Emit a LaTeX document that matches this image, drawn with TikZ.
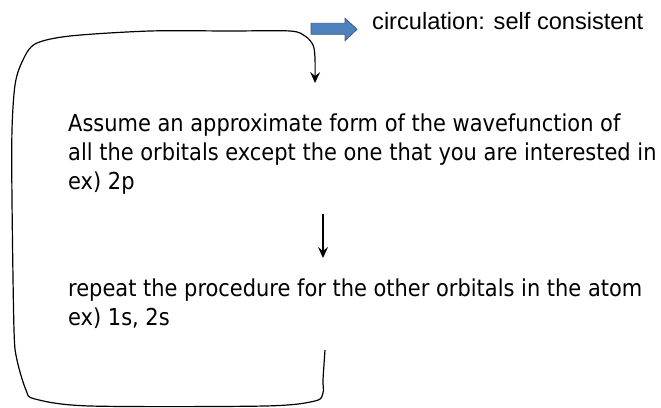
\documentclass[tikz,border=0pt]{standalone}
\usepackage{fontspec}
\newfontfamily\tahfont{DejaVu Sans Condensed}
\newfontfamily\arifont{Liberation Sans}
\usetikzlibrary{arrows.meta}
\definecolor{officeblue}{HTML}{4F81BD}
\definecolor{officeline}{HTML}{385D8A}
\begin{document}
\begin{tikzpicture}[x=1pt,y=-1pt,
  flow/.style={line width=1.2pt,-{Stealth[length=11pt,width=10pt,inset=4pt]}},
  bodytext/.style={inner sep=0pt,anchor=base west,align=left,
    font=\tahfont\fontsize{23.3}{29}\selectfont},
  notetext/.style={inner sep=0pt,anchor=base west,
    font=\arifont\fontsize{23.6}{28}\selectfont}]
\useasboundingbox (0,0) rectangle (661,407);
% blue arrow
\filldraw[fill=officeblue,draw=officeline,line width=0.8pt]
  (311,23.3)--(345,23.3)--(345,18.3)--(357,29.3)--(345,40.7)--(345,34.3)--(311,34.3)--cycle;
\node[notetext] (note) at (372,29.3) {circulation: self consistent};
% texts (base anchor = baseline of the last line)
\node[bodytext] (assume) at (68,189) {Assume an approximate form of the wavefunction of\\all the orbitals except the one that you are interested in\\ex) 2p};
\node[bodytext] (repeat) at (68,325) {repeat the procedure for the other orbitals in the atom\\ex) 1s, 2s};
% middle arrow
\coordinate (midtop) at (323,214);
\coordinate (midtip) at (323,258);
\draw[flow] (midtop) -- (midtip);
% loop
\coordinate (loopstart) at (325,350);
\coordinate (loopend) at (315,83);
\draw[flow] plot[smooth,tension=0.5] coordinates {
  (loopstart) (323,380) (323,393) (315,401) (265,406) (90,406) (35,399)
  (26,390) (17,360) (14,330) (12,200) (12,130) (15,85) (22,62) (35,44)
  (70,36) (150,31) (230,31) (290,31) (305,36) (313,45) (315,58) (loopend)};
\end{tikzpicture}
\end{document}
